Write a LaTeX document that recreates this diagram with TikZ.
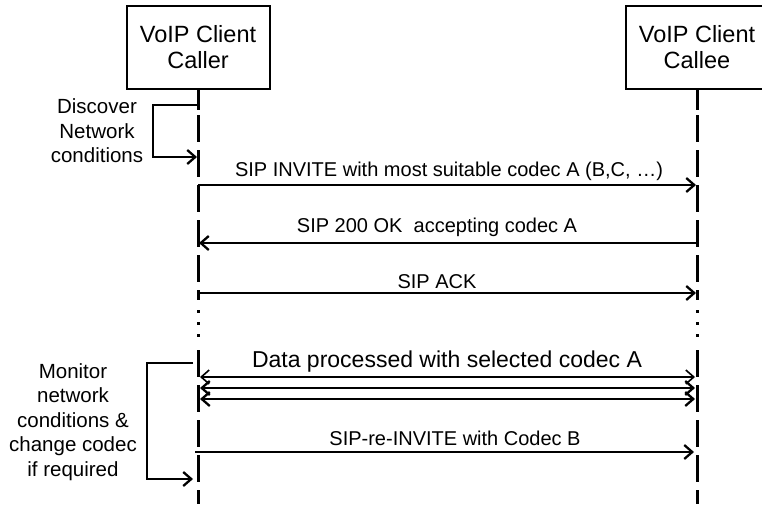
\documentclass[tikz,border=0pt]{standalone}
\usepackage{fontspec}
\setmainfont{Liberation Sans}
\usetikzlibrary{arrows.meta}
\begin{document}
\begin{tikzpicture}[x=1pt,y=-1pt,
  box/.style={draw, line width=2pt, minimum width=143pt, minimum height=83pt,
    inner sep=0pt, align=center, font=\fontsize{23.5}{26}\selectfont},
  lbl/.style={font=\fontsize{20}{24}\selectfont, inner sep=0pt, anchor=base},
  note/.style={font=\fontsize{20.5}{24.5}\selectfont, inner sep=0pt, align=center},
  msg/.style={line width=2.3pt, -{Straight Barb[length=8pt,width=14pt]}},
  both/.style={line width=2.3pt, {Straight Barb[length=8pt,width=14pt]}-{Straight Barb[length=8pt,width=14pt]}},
  life/.style={line width=3pt},
  lifedash/.style={line width=3pt, dash pattern=on 27pt off 8pt},
  lifedot/.style={line width=3pt, dash pattern=on 3pt off 9pt}]
\useasboundingbox (0,0) rectangle (762,504);
\clip (0,0) rectangle (762,504);

% participants
\node[box] (caller) at (198,47.5) {VoIP Client\\Caller};
\node[box] (callee) at (697,47.5) {VoIP Client\\Callee};

% lifelines
\coordinate (cA) at (198,110); \coordinate (cB) at (198,115);
\coordinate (cC) at (198,300); \coordinate (cD) at (198,310);
\coordinate (cE) at (198,338); \coordinate (cF) at (198,350);
\coordinate (cG) at (198,504);
\coordinate (eA) at (697,110); \coordinate (eB) at (697,115);
\coordinate (eC) at (697,300); \coordinate (eD) at (697,310);
\coordinate (eE) at (697,338); \coordinate (eF) at (697,350);
\coordinate (eG) at (697,504);
\draw[life] (caller.south) -- (cA);
\draw[lifedash] (cB) -- (cC);
\draw[lifedot] (cD) -- (cE);
\draw[lifedash] (cF) -- (cG);
\draw[life] (callee.south) -- (eA);
\draw[lifedash] (eB) -- (eC);
\draw[lifedot] (eD) -- (eE);
\draw[lifedash] (eF) -- (eG);

% discover network conditions
\coordinate (d1) at (198,105);
\coordinate (d2) at (197,157);
\draw[msg] (d1) -- ++(-45,0) |- (d2);
\node[note] (disc) at (97,131) {Discover\\Network\\conditions};

% SIP INVITE
\coordinate (m1a) at (198,185); \coordinate (m1b) at (696,185);
\draw[msg] (m1a) -- (m1b);
\node[lbl] (l1) at (449,176) {SIP INVITE with most suitable codec A (B,C, …)};

% SIP 200 OK
\coordinate (m2a) at (697,243); \coordinate (m2b) at (199,243);
\draw[msg] (m2a) -- (m2b);
\node[lbl] (l2) at (437,232) {SIP 200 OK\ \ accepting codec A};

% SIP ACK
\coordinate (m3a) at (198,293); \coordinate (m3b) at (696,293);
\draw[msg] (m3a) -- (m3b);
\node[lbl] (l3) at (437,288) {SIP ACK};

% data
\node[lbl, font=\fontsize{23}{27}\selectfont] (l4) at (447,367) {Data processed with selected codec A};
\coordinate (m4a) at (200,377); \coordinate (m4b) at (695,377);
\coordinate (m5a) at (200,388); \coordinate (m5b) at (695,388);
\coordinate (m6a) at (200,399); \coordinate (m6b) at (695,399);
\draw[both, line width=1.6pt] (m4a) -- (m4b);
\draw[both] (m5a) -- (m5b);
\draw[both] (m6a) -- (m6b);

% monitor
\coordinate (n1) at (193,363);
\coordinate (n2) at (193,479);
\draw[msg] (n1) -- ++(-46,0) |- (n2);
\node[note] (mon) at (73,422) {Monitor\\network\\conditions \&\\change codec\\if required};

% SIP re-INVITE
\coordinate (m7a) at (195,452); \coordinate (m7b) at (694,452);
\draw[msg] (m7a) -- (m7b);
\node[lbl] (l7) at (455,445) {SIP-re-INVITE with Codec B};
\end{tikzpicture}
\end{document}
